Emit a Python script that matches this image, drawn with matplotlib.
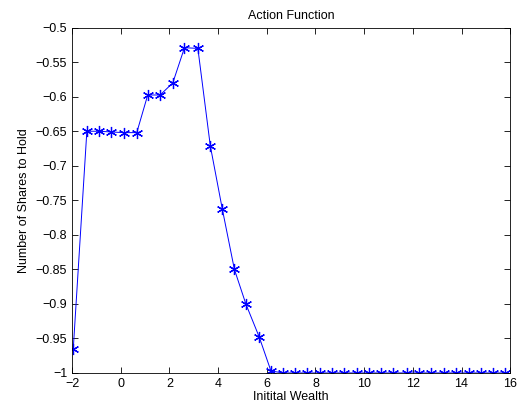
import matplotlib
matplotlib.use("Agg")
import matplotlib.pyplot as plt

plt.rcParams['font.family'] = ['Liberation Sans', 'DejaVu Sans']

# wealth grid and the chosen share holdings
wealth = [-1.95, -1.39, -0.90, -0.40, 0.13, 0.66, 1.11, 1.62, 2.14, 2.62,
          3.17, 3.68, 4.17, 4.67, 5.14, 5.69, 6.17, 6.65, 7.17, 7.67,
          8.17, 8.67, 9.18, 9.70, 10.20, 10.70, 11.20, 11.76, 12.27, 12.75,
          13.27, 13.78, 14.29, 14.78, 15.29, 15.80]
shares = [-0.966, -0.650, -0.650, -0.651, -0.652, -0.652, -0.5975, -0.5975, -0.580, -0.529,
          -0.530, -0.671, -0.762, -0.850, -0.900, -0.948, -0.997, -1.0, -1.0, -1.0,
          -1.0, -1.0, -1.0, -1.0, -1.0, -1.0, -1.0, -1.0, -1.0, -1.0,
          -1.0, -1.0, -1.0, -1.0, -1.0, -1.0]

xticks = [-2, 0, 2, 4, 6, 8, 10, 12, 14, 16]
yticks = [-1, -0.95, -0.9, -0.85, -0.8, -0.75, -0.7, -0.65, -0.6, -0.55, -0.5]

fig = plt.figure(figsize=(5.18, 4.13), dpi=100)
ax = fig.add_axes([0.139, 0.097, 0.846, 0.836])

# MATLAB-like asterisk marker: 6 spokes, first one vertical
ax.plot(wealth, shares, color='#0000ff', lw=0.7, marker=(6, 2, 0), ms=8, mew=0.9)

ax.set_xlim(-2, 16)
ax.set_ylim(-1, -0.5)
ax.set_xticks(xticks)
ax.set_yticks(yticks)
ax.set_yticklabels([f"{v:g}".replace('-', '\u2212') for v in yticks])
ax.tick_params(direction='in', top=True, right=True, labelsize=9, length=4, width=0.6)
for sp in ax.spines.values():
    sp.set_linewidth(0.6)

ax.set_title("Action Function", fontsize=9)
ax.set_xlabel("Initital Wealth", fontsize=9, labelpad=1)
ax.set_ylabel("Number of Shares to Hold", fontsize=9)

fig.savefig("out.png", dpi=100)
